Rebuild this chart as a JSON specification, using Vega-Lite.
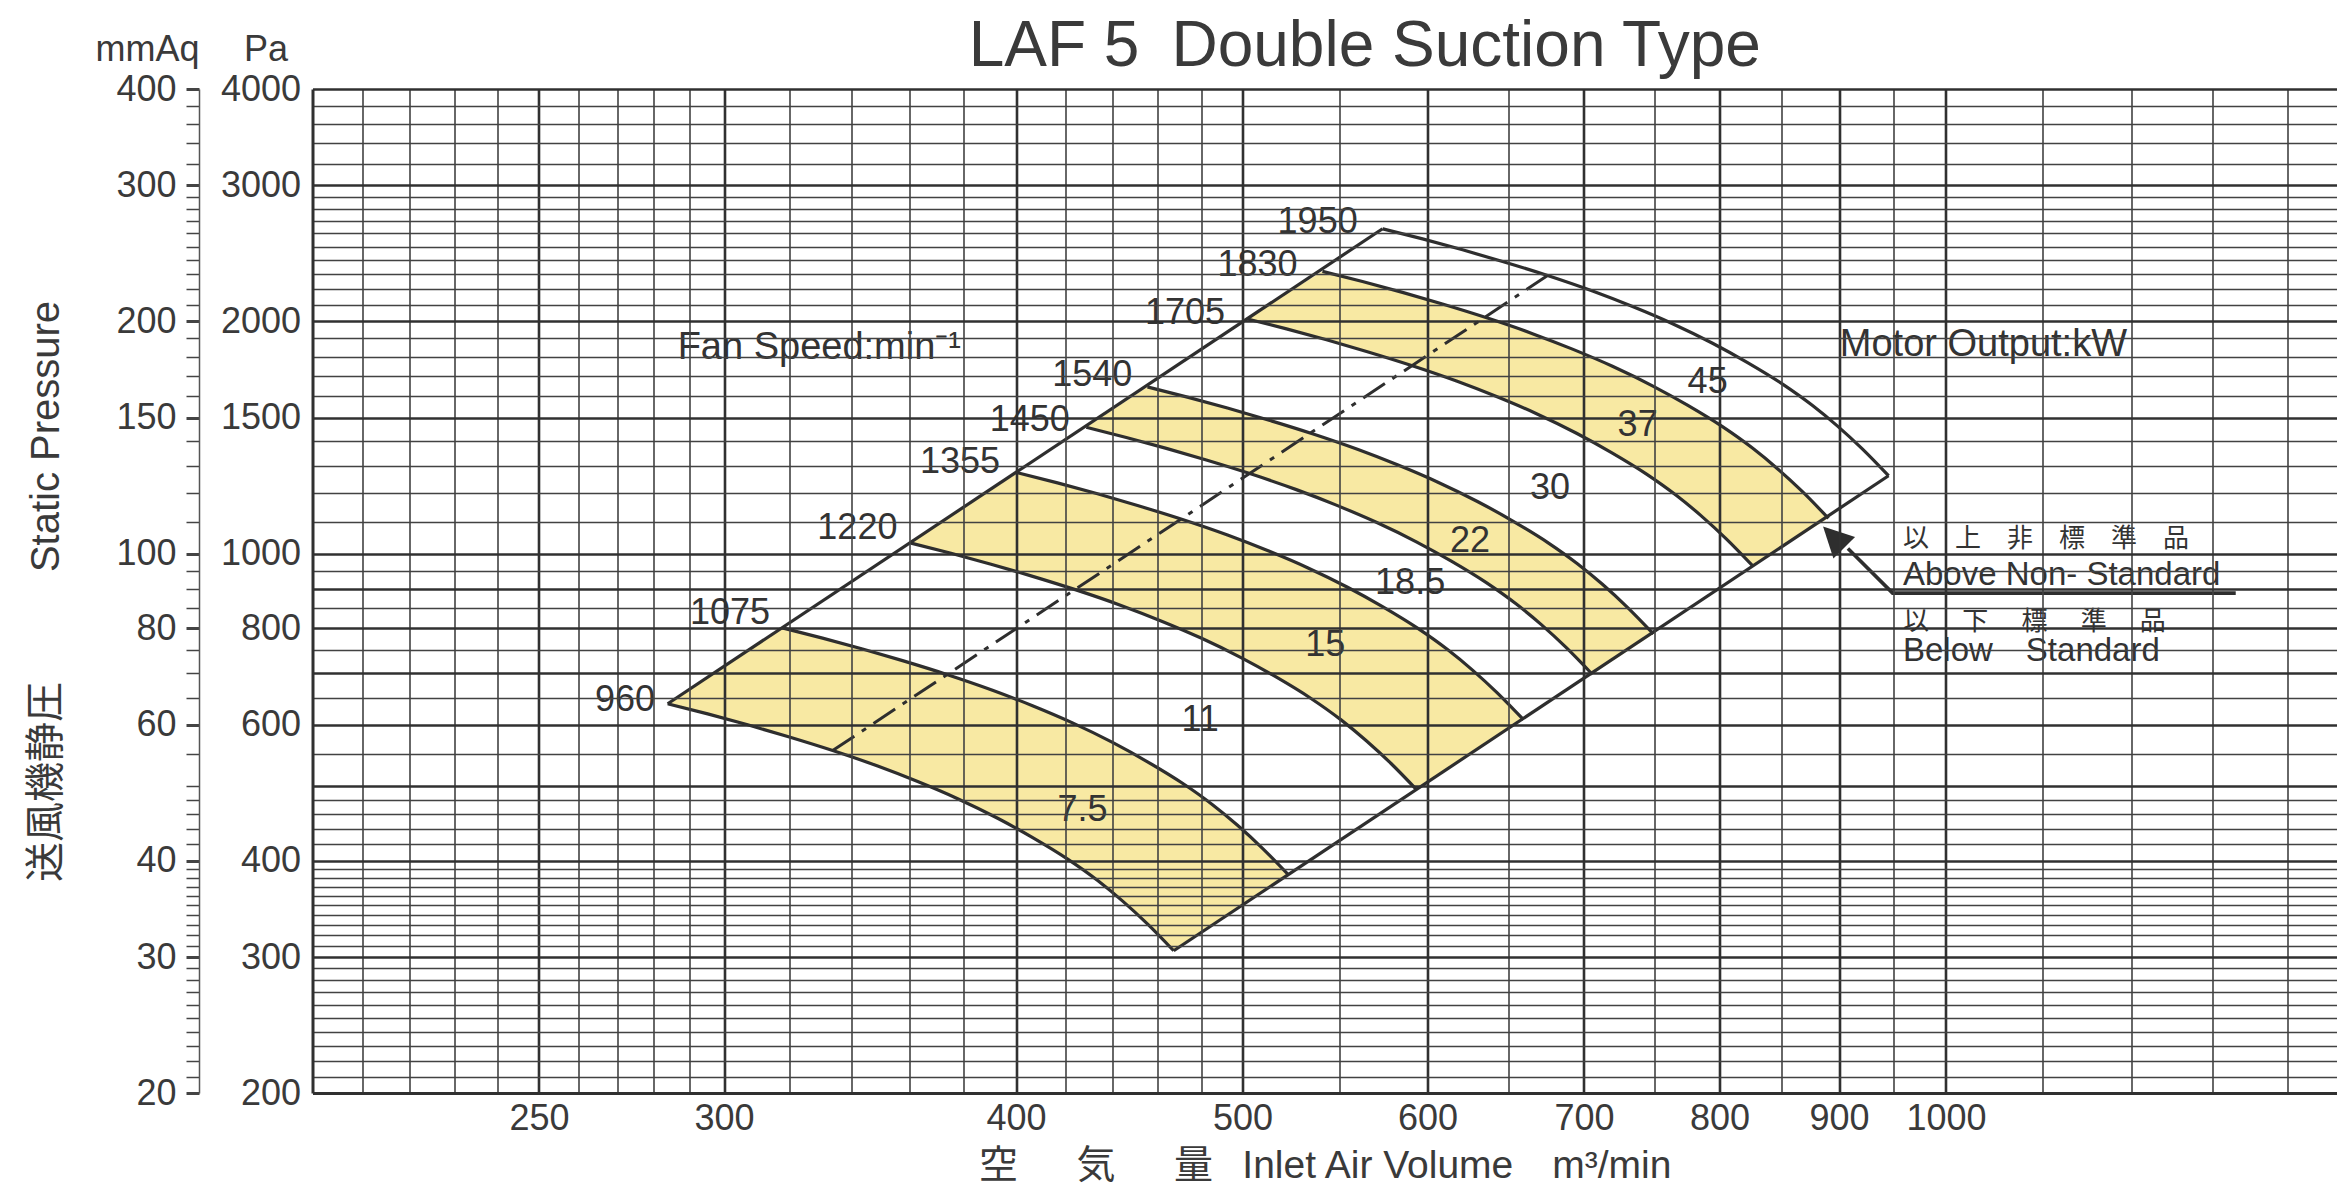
{
  "$schema": "https://vega.github.io/schema/vega-lite/v6.json",
  "width": 2024.5,
  "height": 1004,
  "autosize": {"type": "none"},
  "padding": {"left": 312.5, "top": 89, "right": 0, "bottom": 111},
  "background": "white",
  "config": {
    "view": {"stroke": null},
    "axis": {"labelFont": "Liberation Sans, Noto Sans CJK JP, sans-serif", "titleFont": "Liberation Sans, Noto Sans CJK JP, sans-serif", "labelColor": "#3a3a3a", "titleColor": "#3a3a3a", "titleFontWeight": "normal"},
    "text": {"font": "Liberation Sans, Noto Sans CJK JP, sans-serif", "color": "#333333"},
    "title": {"font": "Liberation Sans, sans-serif"}
  },
  "title": {"text": "LAF 5\u2002Double Suction Type", "fontSize": 64, "fontWeight": "normal", "color": "#3a3a3a", "anchor": "middle", "frame": "group", "dx": 40, "dy": 48, "offset": 0},
  "datasets": {
    "curves": [
      {"n":960,"i":0,"Q":283.8,"P":638.9,"b":"7.5","o":0},
      {"n":960,"i":1,"Q":295.21,"P":619.82,"b":"7.5","o":1},
      {"n":960,"i":2,"Q":307.07,"P":599.99,"b":"7.5","o":2},
      {"n":960,"i":3,"Q":319.42,"P":579.46,"b":"7.5","o":3},
      {"n":960,"i":4,"Q":333.90,"P":555.68,"b":"7.5","o":4},
      {"n":960,"i":5,"Q":349.04,"P":530.52,"b":"7.5","o":5},
      {"n":960,"i":6,"Q":363.07,"P":506.53,"b":"7.5","o":6},
      {"n":960,"i":7,"Q":377.66,"P":481.28,"b":"7.5","o":7},
      {"n":960,"i":8,"Q":392.84,"P":454.03,"b":"7.5","o":8},
      {"n":960,"i":9,"Q":406.63,"P":428.55,"b":"7.5","o":9},
      {"n":960,"i":10,"Q":420.89,"P":401.91,"b":"7.5","o":10},
      {"n":960,"i":11,"Q":433.52,"P":377.02,"b":"7.5","o":11},
      {"n":960,"i":12,"Q":444.33,"P":354.58,"b":"7.5","o":12},
      {"n":960,"i":13,"Q":455.41,"P":331.03,"b":"7.5","o":13},
      {"n":960,"i":14,"Q":467.23,"P":305.75,"b":"7.5","o":14},
      {"n":1075,"i":0,"Q":317.8,"P":801.1,"b":"7.5","o":29},
      {"n":1075,"i":1,"Q":330.58,"P":777.18,"b":"7.5","o":28},
      {"n":1075,"i":2,"Q":343.86,"P":752.31,"b":"7.5","o":27},
      {"n":1075,"i":3,"Q":357.69,"P":726.57,"b":"7.5","o":26},
      {"n":1075,"i":4,"Q":373.90,"P":696.76,"b":"7.5","o":25},
      {"n":1075,"i":5,"Q":390.85,"P":665.21,"b":"7.5","o":24},
      {"n":1075,"i":6,"Q":406.56,"P":635.12,"b":"7.5","o":23},
      {"n":1075,"i":7,"Q":422.91,"P":603.46,"b":"7.5","o":22},
      {"n":1075,"i":8,"Q":439.90,"P":569.29,"b":"7.5","o":21},
      {"n":1075,"i":9,"Q":455.34,"P":537.35,"b":"7.5","o":20},
      {"n":1075,"i":10,"Q":471.32,"P":503.94,"b":"7.5","o":19},
      {"n":1075,"i":11,"Q":485.46,"P":472.74,"b":"7.5","o":18},
      {"n":1075,"i":12,"Q":497.56,"P":444.60,"b":"7.5","o":17},
      {"n":1075,"i":13,"Q":509.97,"P":415.07,"b":"7.5","o":16},
      {"n":1075,"i":14,"Q":523.20,"P":383.37,"b":"7.5","o":15},
      {"n":1220,"i":0,"Q":360.7,"P":1031.8,"b":"15","o":0},
      {"n":1220,"i":1,"Q":375.20,"P":1000.99,"b":"15","o":1},
      {"n":1220,"i":2,"Q":390.28,"P":968.96,"b":"15","o":2},
      {"n":1220,"i":3,"Q":405.97,"P":935.80,"b":"15","o":3},
      {"n":1220,"i":4,"Q":424.37,"P":897.41,"b":"15","o":4},
      {"n":1220,"i":5,"Q":443.61,"P":856.78,"b":"15","o":5},
      {"n":1220,"i":6,"Q":461.45,"P":818.02,"b":"15","o":6},
      {"n":1220,"i":7,"Q":480.00,"P":777.24,"b":"15","o":7},
      {"n":1220,"i":8,"Q":499.29,"P":733.24,"b":"15","o":8},
      {"n":1220,"i":9,"Q":516.81,"P":692.09,"b":"15","o":9},
      {"n":1220,"i":10,"Q":534.94,"P":649.06,"b":"15","o":10},
      {"n":1220,"i":11,"Q":550.99,"P":608.88,"b":"15","o":11},
      {"n":1220,"i":12,"Q":564.73,"P":572.63,"b":"15","o":12},
      {"n":1220,"i":13,"Q":578.81,"P":534.61,"b":"15","o":13},
      {"n":1220,"i":14,"Q":593.83,"P":493.77,"b":"15","o":14},
      {"n":1355,"i":0,"Q":400.6,"P":1272.8,"b":"15","o":29},
      {"n":1355,"i":1,"Q":416.70,"P":1234.79,"b":"15","o":28},
      {"n":1355,"i":2,"Q":433.45,"P":1195.29,"b":"15","o":27},
      {"n":1355,"i":3,"Q":450.88,"P":1154.38,"b":"15","o":26},
      {"n":1355,"i":4,"Q":471.32,"P":1107.02,"b":"15","o":25},
      {"n":1355,"i":5,"Q":492.69,"P":1056.89,"b":"15","o":24},
      {"n":1355,"i":6,"Q":512.49,"P":1009.09,"b":"15","o":23},
      {"n":1355,"i":7,"Q":533.09,"P":958.79,"b":"15","o":22},
      {"n":1355,"i":8,"Q":554.52,"P":904.50,"b":"15","o":21},
      {"n":1355,"i":9,"Q":573.98,"P":853.74,"b":"15","o":20},
      {"n":1355,"i":10,"Q":594.11,"P":800.67,"b":"15","o":19},
      {"n":1355,"i":11,"Q":611.94,"P":751.09,"b":"15","o":18},
      {"n":1355,"i":12,"Q":627.20,"P":706.38,"b":"15","o":17},
      {"n":1355,"i":13,"Q":642.84,"P":659.48,"b":"15","o":16},
      {"n":1355,"i":14,"Q":659.52,"P":609.10,"b":"15","o":15},
      {"n":1450,"i":0,"Q":428.7,"P":1457.6,"b":"22","o":0},
      {"n":1450,"i":1,"Q":445.93,"P":1414.08,"b":"22","o":1},
      {"n":1450,"i":2,"Q":463.86,"P":1368.83,"b":"22","o":2},
      {"n":1450,"i":3,"Q":482.51,"P":1321.98,"b":"22","o":3},
      {"n":1450,"i":4,"Q":504.38,"P":1267.75,"b":"22","o":4},
      {"n":1450,"i":5,"Q":527.25,"P":1210.35,"b":"22","o":5},
      {"n":1450,"i":6,"Q":548.44,"P":1155.60,"b":"22","o":6},
      {"n":1450,"i":7,"Q":570.48,"P":1098.00,"b":"22","o":7},
      {"n":1450,"i":8,"Q":593.42,"P":1035.83,"b":"22","o":8},
      {"n":1450,"i":9,"Q":614.24,"P":977.70,"b":"22","o":9},
      {"n":1450,"i":10,"Q":635.79,"P":916.92,"b":"22","o":10},
      {"n":1450,"i":11,"Q":654.86,"P":860.14,"b":"22","o":11},
      {"n":1450,"i":12,"Q":671.19,"P":808.94,"b":"22","o":12},
      {"n":1450,"i":13,"Q":687.93,"P":755.23,"b":"22","o":13},
      {"n":1450,"i":14,"Q":705.78,"P":697.53,"b":"22","o":14},
      {"n":1540,"i":0,"Q":455.3,"P":1644.1,"b":"22","o":29},
      {"n":1540,"i":1,"Q":473.60,"P":1595.01,"b":"22","o":28},
      {"n":1540,"i":2,"Q":492.64,"P":1543.97,"b":"22","o":27},
      {"n":1540,"i":3,"Q":512.44,"P":1491.13,"b":"22","o":26},
      {"n":1540,"i":4,"Q":535.67,"P":1429.96,"b":"22","o":25},
      {"n":1540,"i":5,"Q":559.96,"P":1365.21,"b":"22","o":24},
      {"n":1540,"i":6,"Q":582.47,"P":1303.46,"b":"22","o":23},
      {"n":1540,"i":7,"Q":605.88,"P":1238.48,"b":"22","o":22},
      {"n":1540,"i":8,"Q":630.24,"P":1168.36,"b":"22","o":21},
      {"n":1540,"i":9,"Q":652.35,"P":1102.80,"b":"22","o":20},
      {"n":1540,"i":10,"Q":675.24,"P":1034.24,"b":"22","o":19},
      {"n":1540,"i":11,"Q":695.49,"P":970.20,"b":"22","o":18},
      {"n":1540,"i":12,"Q":712.84,"P":912.44,"b":"22","o":17},
      {"n":1540,"i":13,"Q":730.62,"P":851.86,"b":"22","o":16},
      {"n":1540,"i":14,"Q":749.57,"P":786.78,"b":"22","o":15},
      {"n":1705,"i":0,"Q":502.0,"P":2015.3,"b":"37","o":0},
      {"n":1705,"i":1,"Q":522.18,"P":1955.12,"b":"37","o":1},
      {"n":1705,"i":2,"Q":543.17,"P":1892.57,"b":"37","o":2},
      {"n":1705,"i":3,"Q":565.01,"P":1827.80,"b":"37","o":3},
      {"n":1705,"i":4,"Q":590.62,"P":1752.81,"b":"37","o":4},
      {"n":1705,"i":5,"Q":617.39,"P":1673.44,"b":"37","o":5},
      {"n":1705,"i":6,"Q":642.21,"P":1597.75,"b":"37","o":6},
      {"n":1705,"i":7,"Q":668.03,"P":1518.11,"b":"37","o":7},
      {"n":1705,"i":8,"Q":694.88,"P":1432.15,"b":"37","o":8},
      {"n":1705,"i":9,"Q":719.26,"P":1351.78,"b":"37","o":9},
      {"n":1705,"i":10,"Q":744.50,"P":1267.74,"b":"37","o":10},
      {"n":1705,"i":11,"Q":766.83,"P":1189.25,"b":"37","o":11},
      {"n":1705,"i":12,"Q":785.95,"P":1118.45,"b":"37","o":12},
      {"n":1705,"i":13,"Q":805.55,"P":1044.19,"b":"37","o":13},
      {"n":1705,"i":14,"Q":826.46,"P":964.42,"b":"37","o":14},
      {"n":1830,"i":0,"Q":541.0,"P":2321.6,"b":"37","o":29},
      {"n":1830,"i":1,"Q":562.75,"P":2252.28,"b":"37","o":28},
      {"n":1830,"i":2,"Q":585.37,"P":2180.21,"b":"37","o":27},
      {"n":1830,"i":3,"Q":608.90,"P":2105.60,"b":"37","o":26},
      {"n":1830,"i":4,"Q":636.50,"P":2019.21,"b":"37","o":25},
      {"n":1830,"i":5,"Q":665.36,"P":1927.79,"b":"37","o":24},
      {"n":1830,"i":6,"Q":692.11,"P":1840.59,"b":"37","o":23},
      {"n":1830,"i":7,"Q":719.92,"P":1748.84,"b":"37","o":22},
      {"n":1830,"i":8,"Q":748.86,"P":1649.82,"b":"37","o":21},
      {"n":1830,"i":9,"Q":775.14,"P":1557.24,"b":"37","o":20},
      {"n":1830,"i":10,"Q":802.34,"P":1460.43,"b":"37","o":19},
      {"n":1830,"i":11,"Q":826.40,"P":1369.99,"b":"37","o":18},
      {"n":1830,"i":12,"Q":847.01,"P":1288.44,"b":"37","o":17},
      {"n":1830,"i":13,"Q":868.14,"P":1202.89,"b":"37","o":16},
      {"n":1830,"i":14,"Q":890.66,"P":1110.98,"b":"37","o":15},
      {"n":1950,"i":0,"Q":574.0,"P":2636.0,"o":0},
      {"n":1950,"i":1,"Q":597.07,"P":2557.29,"o":1},
      {"n":1950,"i":2,"Q":621.07,"P":2475.47,"o":2},
      {"n":1950,"i":3,"Q":646.04,"P":2390.75,"o":3},
      {"n":1950,"i":4,"Q":675.33,"P":2292.66,"o":4},
      {"n":1950,"i":5,"Q":705.95,"P":2188.86,"o":5},
      {"n":1950,"i":6,"Q":734.32,"P":2089.85,"o":6},
      {"n":1950,"i":7,"Q":763.84,"P":1985.67,"o":7},
      {"n":1950,"i":8,"Q":794.54,"P":1873.25,"o":8},
      {"n":1950,"i":9,"Q":822.42,"P":1768.12,"o":9},
      {"n":1950,"i":10,"Q":851.28,"P":1658.20,"o":10},
      {"n":1950,"i":11,"Q":876.81,"P":1555.53,"o":11},
      {"n":1950,"i":12,"Q":898.68,"P":1462.93,"o":12},
      {"n":1950,"i":13,"Q":921.09,"P":1365.79,"o":13},
      {"n":1950,"i":14,"Q":944.99,"P":1261.46,"o":14}
    ],
    "edges": [
      {"e":"surge","Q":283.8,"P":638.9},
      {"e":"surge","Q":574.0,"P":2636.0},
      {"e":"limit","Q":467.23,"P":305.75},
      {"e":"limit","Q":944.99,"P":1261.46}
    ],
    "dash": [
      {"Q":333.90,"P":555.68},
      {"Q":675.33,"P":2292.66}
    ],
    "speeds": [
      {"s":"960","Q":280.3,"P":646},
      {"s":"1075","Q":313.9,"P":837.6},
      {"s":"1220","Q":355.9,"P":1079.4},
      {"s":"1355","Q":393.8,"P":1315.5},
      {"s":"1450","Q":421.8,"P":1490},
      {"s":"1540","Q":448.6,"P":1703.8},
      {"s":"1705","Q":491.5,"P":2048},
      {"s":"1830","Q":527.9,"P":2365.5},
      {"s":"1950","Q":560.1,"P":2692}
    ],
    "kw": [
      {"k":"7.5","Q":427.1,"P":465.3},
      {"k":"11","Q":479.6,"P":608.8},
      {"k":"15","Q":542.5,"P":761.4},
      {"k":"18.5","Q":589.8,"P":915.2},
      {"k":"22","Q":625.7,"P":1039.2},
      {"k":"30","Q":677.0,"P":1215.2},
      {"k":"37","Q":738.0,"P":1467.9},
      {"k":"45","Q":790.7,"P":1670}
    ],
    "notes": [
      {"t":"Fan Speed:min⁻¹","Q":286.6,"P":1848},
      {"t":"Motor Output:kW","Q":900.7,"P":1863}
    ],
    "notesLatin": [
      {"t":"Above Non- Standard","Q":958.5,"P":938.2},
      {"t":"Below\u2003Standard","Q":958.5,"P":747.1}
    ],
    "notesCJK": [
      {"t":"以　上　非　標　準　品","Q":958.5,"P":1043.0},
      {"t":"以　 下　 標　 準　 品","Q":958.5,"P":816.6}
    ],
    "arrow": [
      {"Q":907.9,"P":1015.3,"o":0},
      {"Q":948.8,"P":888.8,"o":1},
      {"Q":1330.4,"P":888.8,"o":2}
    ],
    "head": [
      {"Q":900.0,"P":1033.7}
    ]
  },
  "encoding": {
    "x": {"field": "Q", "type": "quantitative", "scale": {"type": "log", "domain": [200, 1470], "nice": false}, "axis": null},
    "y": {"field": "P", "type": "quantitative", "scale": {"type": "log", "domain": [200, 4000], "nice": false}, "axis": null}
  },
  "layer": [
    {
      "data": {"name": "curves"},
      "transform": [{"filter": "datum.b != null"}],
      "mark": {"type": "line", "fill": "#f8e9a3", "strokeWidth": 0, "stroke": "#f8e9a3"},
      "encoding": {
        "x": {"field": "Q", "type": "quantitative", "scale": {"type": "log", "domain": [200, 1470], "nice": false},
          "axis": {"orient": "bottom", "values": [210,220,230,240,260,270,280,290,320,340,360,380,420,440,460,480,550,650,750,850,950,1100,1200,1300,1400], "grid": true, "gridColor": "#424242", "gridWidth": 1.6, "domain": false, "ticks": false, "labels": false, "title": null, "zindex": 1}},
        "y": {"field": "P", "type": "quantitative", "scale": {"type": "log", "domain": [200, 4000], "nice": false},
          "axis": {"orient": "left", "values": [210,220,230,240,250,260,270,280,290,310,320,330,340,350,360,370,380,390,420,440,460,480,550,650,750,850,950,1100,1200,1300,1400,1600,1700,1800,1900,2100,2200,2300,2400,2500,2600,2700,2800,2900,3200,3400,3600,3800], "grid": true, "gridColor": "#424242", "gridWidth": 1.6, "domain": false, "ticks": false, "labels": false, "title": null, "zindex": 1}},
        "detail": {"field": "b"},
        "order": {"field": "o", "type": "quantitative"}
      }
    },
    {
      "data": {"name": "curves"},
      "mark": {"type": "line", "stroke": "#2e2e2e", "strokeWidth": 3.2, "interpolate": "monotone"},
      "encoding": {
        "x": {"field": "Q", "type": "quantitative", "scale": {"type": "log", "domain": [200, 1470], "nice": false},
          "axis": {"orient": "bottom", "values": [250,300,400,500,600,700,800,900,1000], "format": "d", "grid": true, "gridColor": "#303030", "gridWidth": 2.6, "domain": true, "domainColor": "#303030", "domainWidth": 3, "ticks": false, "labelFontSize": 36, "labelPadding": 8, "labelOverlap": false, "labelFlush": false, "labelBound": false, "title": "空\u3000\u2002気\u3000\u2002量\u2002\u2005Inlet Air Volume\u3000m³/min", "titleFontSize": 39, "titlePadding": 10, "zindex": 1}},
        "y": {"field": "P", "type": "quantitative", "scale": {"type": "log", "domain": [200, 4000], "nice": false},
          "axis": {"orient": "left", "values": [200,300,400,500,600,700,800,900,1000,1500,2000,3000,4000], "labelExpr": "indexof([200,300,400,600,800,1000,1500,2000,3000,4000], datum.value) >= 0 ? format(datum.value, 'd') : ''", "grid": true, "gridColor": "#303030", "gridWidth": 2.6, "domain": true, "domainColor": "#303030", "domainWidth": 3, "ticks": false, "labelFontSize": 36, "labelPadding": 12, "labelOverlap": false, "labelFlush": false, "labelBound": false, "title": "Pa", "titleAngle": 0, "titleX": -47, "titleY": -40, "titleAlign": "center", "titleBaseline": "middle", "titleFontSize": 36, "zindex": 1}},
        "detail": {"field": "n"},
        "order": {"field": "i", "type": "quantitative"}
      }
    },
    {
      "data": {"name": "edges"},
      "mark": {"type": "line", "stroke": "#2e2e2e", "strokeWidth": 3.2},
      "encoding": {
        "y": {"field": "P", "type": "quantitative", "scale": {"type": "log", "domain": [200, 4000], "nice": false},
          "axis": {"orient": "left", "offset": 113.5, "values": [200,210,220,230,240,250,260,270,280,290,300,310,320,330,340,350,360,370,380,390,400,420,440,460,480,500,550,600,650,700,750,800,850,900,950,1000,1100,1200,1300,1400,1500,1600,1700,1800,1900,2000,2100,2200,2300,2400,2500,2600,2700,2800,2900,3000,3200,3400,3600,3800,4000], "labelExpr": "indexof([200,300,400,600,800,1000,1500,2000,3000,4000], datum.value) >= 0 ? format(datum.value / 10, 'd') : ''", "grid": false, "domain": true, "domainColor": "#555555", "domainWidth": 1.5, "ticks": true, "tickSize": 13, "tickColor": "#444444", "tickWidth": {"condition": {"test": "indexof([200,300,400,600,800,1000,1500,2000,3000,4000], datum.value) >= 0", "value": 3}, "value": 1.5}, "labelFontSize": 36, "labelPadding": 10, "labelOverlap": false, "labelFlush": false, "labelBound": false, "title": "mmAq", "titleAngle": 0, "titleX": -52, "titleY": -40, "titleAlign": "center", "titleBaseline": "middle", "titleFontSize": 36, "zindex": 1}},
        "detail": {"field": "e"}
      }
    },
    {
      "data": {"name": "dash"},
      "mark": {"type": "line", "stroke": "#2e2e2e", "strokeWidth": 3, "strokeDash": [26, 9, 5, 9]},
      "encoding": {
        "y": {"field": "P", "type": "quantitative", "scale": {"type": "log", "domain": [200, 4000], "nice": false},
          "axis": {"orient": "left", "offset": 242, "labels": false, "ticks": false, "domain": false, "grid": false, "title": "送風機静圧\u3000\u3000\u2002\u2005Static Pressure", "titleFontSize": 40, "titlePadding": 4}}
      }
    },
    {
      "data": {"name": "speeds"},
      "mark": {"type": "text", "align": "right", "baseline": "middle", "fontSize": 36, "color": "#333333"},
      "encoding": {"text": {"field": "s"}}
    },
    {
      "data": {"name": "kw"},
      "mark": {"type": "text", "align": "center", "baseline": "middle", "fontSize": 36, "color": "#333333"},
      "encoding": {"text": {"field": "k"}}
    },
    {
      "data": {"name": "notes"},
      "mark": {"type": "text", "align": "left", "baseline": "middle", "fontSize": 38, "color": "#333333"},
      "encoding": {"text": {"field": "t"}}
    },
    {
      "data": {"name": "notesLatin"},
      "mark": {"type": "text", "align": "left", "baseline": "middle", "fontSize": 33, "color": "#333333"},
      "encoding": {"text": {"field": "t"}}
    },
    {
      "data": {"name": "notesCJK"},
      "mark": {"type": "text", "align": "left", "baseline": "middle", "fontSize": 26, "color": "#333333"},
      "encoding": {"text": {"field": "t"}}
    },
    {
      "data": {"name": "arrow"},
      "mark": {"type": "line", "stroke": "#2e2e2e", "strokeWidth": 3.6},
      "encoding": {"order": {"field": "o", "type": "quantitative"}}
    },
    {
      "data": {"name": "head"},
      "mark": {"type": "point", "shape": "M -1 -1 L 1 -0.35 L -0.35 1 Z", "size": 1024, "filled": true, "color": "#2e2e2e", "opacity": 1}
    }
  ],
  "resolve": {"scale": {"x": "shared", "y": "shared"}, "axis": {"x": "independent", "y": "independent"}}
}
